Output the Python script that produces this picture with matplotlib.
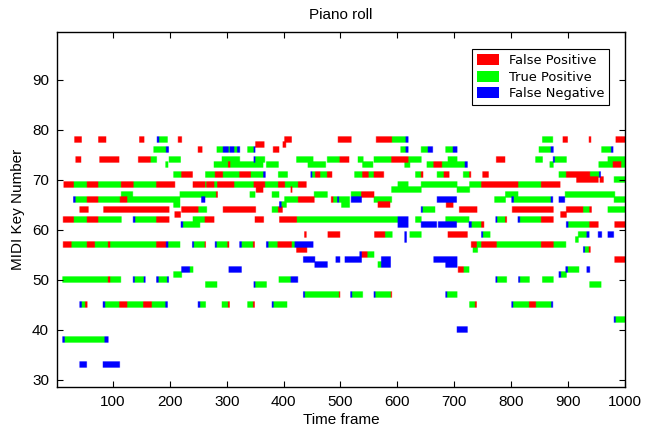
import numpy as np
import matplotlib
matplotlib.use("Agg")
import matplotlib.pyplot as plt
from matplotlib.patches import Patch

# (midi key, first frame, last frame) for every coloured stretch of the roll
false_pos = [
    (78, 33, 45), (78, 75, 88), (78, 147, 155), (78, 215, 221), (78, 402, 414), (78, 496, 519),
    (78, 563, 590), (78, 891, 899), (78, 937, 940), (78, 984, 1000),
    (77, 351, 366), (77, 399, 404),
    (76, 250, 257), (76, 382, 392),
    (74, 35, 44), (74, 77, 111), (74, 145, 166), (74, 499, 515), (74, 590, 619), (74, 774, 789),
    (73, 303, 306), (73, 664, 678), (73, 979, 993),
    (71, 221, 240), (71, 280, 293), (71, 323, 342), (71, 456, 464), (71, 477, 485), (71, 539, 549),
    (71, 559, 576), (71, 642, 645), (71, 682, 691), (71, 727, 729), (71, 750, 760), (71, 897, 938),
    (70, 915, 953), (70, 956, 962),
    (69, 14, 31), (69, 55, 74), (69, 115, 136), (69, 177, 209), (69, 241, 262), (69, 265, 278),
    (69, 284, 313), (69, 348, 367), (69, 391, 402), (69, 426, 440), (69, 748, 812), (69, 853, 886),
    (68, 352, 364), (68, 413, 415),
    (67, 282, 284), (67, 537, 559),
    (66, 55, 74), (66, 113, 125), (66, 426, 454), (66, 484, 487),
    (65, 566, 587), (65, 686, 698),
    (64, 42, 57), (64, 84, 199), (64, 221, 250), (64, 294, 351), (64, 391, 398), (64, 709, 740),
    (64, 802, 874), (64, 897, 926), (64, 938, 941),
    (63, 209, 219), (63, 887, 897),
    (62, 13, 31), (62, 55, 74), (62, 177, 199), (62, 262, 278), (62, 350, 365), (62, 393, 423),
    (62, 790, 792), (62, 853, 874),
    (61, 748, 752), (61, 938, 953), (61, 982, 1000),
    (59, 437, 440), (59, 478, 499), (59, 560, 578), (59, 689, 723),
    (57, 13, 27), (57, 55, 68), (57, 92, 95), (57, 177, 194), (57, 262, 263), (57, 302, 304),
    (57, 347, 349), (57, 390, 414), (57, 730, 739), (57, 748, 774), (57, 853, 874),
    (56, 423, 441), (56, 937, 939),
    (55, 537, 547),
    (54, 982, 1000),
    (52, 707, 716),
    (50, 92, 95),
    (47, 498, 499), (47, 589, 590),
    (45, 52, 55), (45, 112, 125), (45, 154, 168), (45, 303, 305), (45, 347, 349), (45, 737, 739),
    (45, 832, 843),
]

true_pos = [
    (78, 181, 196), (78, 590, 615), (78, 855, 873),
    (76, 172, 194), (76, 283, 294), (76, 303, 306), (76, 313, 319), (76, 337, 348), (76, 606, 615),
    (76, 642, 654), (76, 685, 698), (76, 849, 870), (76, 959, 976),
    (74, 166, 177), (74, 199, 219), (74, 292, 323), (74, 350, 367), (74, 423, 452), (74, 477, 499),
    (74, 531, 540), (74, 559, 590), (74, 619, 642), (74, 689, 705), (74, 843, 855), (74, 876, 897),
    (74, 970, 1000),
    (73, 193, 197), (73, 278, 303), (73, 306, 364), (73, 370, 391), (73, 443, 474), (73, 539, 557),
    (73, 613, 622), (73, 652, 664), (73, 678, 719), (73, 868, 874), (73, 954, 979), (73, 993, 1000),
    (71, 207, 221), (71, 263, 280), (71, 293, 323), (71, 342, 365), (71, 391, 407), (71, 450, 456),
    (71, 464, 477), (71, 525, 539), (71, 549, 559), (71, 632, 642), (71, 670, 682), (71, 716, 727),
    (71, 884, 897), (71, 938, 955),
    (70, 981, 1000),
    (69, 31, 55), (69, 74, 115), (69, 136, 177), (69, 262, 265), (69, 278, 284), (69, 313, 348),
    (69, 367, 391), (69, 402, 426), (69, 601, 619), (69, 642, 705), (69, 727, 748), (69, 812, 853),
    (68, 590, 642), (68, 705, 727),
    (67, 115, 135), (67, 218, 282), (67, 341, 350), (67, 380, 392), (67, 454, 477), (67, 519, 537),
    (67, 790, 812), (67, 895, 982),
    (66, 34, 55), (66, 74, 113), (66, 125, 218), (66, 402, 426), (66, 487, 495), (66, 497, 516),
    (66, 559, 590), (66, 771, 790), (66, 804, 870), (66, 981, 1000),
    (65, 207, 218), (65, 396, 405), (65, 502, 516),
    (64, 250, 265), (64, 380, 391), (64, 644, 666), (64, 926, 938), (64, 970, 1000),
    (62, 31, 55), (62, 74, 115), (62, 139, 177), (62, 241, 262), (62, 423, 601), (62, 632, 642),
    (62, 685, 726), (62, 775, 790), (62, 815, 853),
    (61, 223, 253), (61, 730, 748), (61, 900, 938),
    (59, 578, 591), (59, 622, 642), (59, 750, 763), (59, 918, 933),
    (58, 913, 918),
    (57, 27, 55), (57, 68, 92), (57, 95, 177), (57, 197, 218), (57, 242, 262), (57, 282, 302),
    (57, 326, 347), (57, 373, 390), (57, 414, 420), (57, 739, 748), (57, 774, 853), (57, 874, 896),
    (56, 733, 741), (56, 929, 937),
    (55, 547, 559),
    (53, 566, 572),
    (52, 235, 241), (52, 716, 726), (52, 899, 919),
    (51, 207, 221), (51, 887, 897),
    (50, 12, 92), (50, 95, 114), (50, 138, 155), (50, 180, 196), (50, 392, 413), (50, 775, 792),
    (50, 815, 832), (50, 855, 874),
    (49, 263, 283), (49, 350, 370), (49, 938, 958),
    (47, 437, 498), (47, 520, 539), (47, 561, 589), (47, 687, 705),
    (45, 45, 52), (45, 86, 112), (45, 125, 154), (45, 168, 193), (45, 253, 263), (45, 292, 303),
    (45, 337, 347), (45, 382, 406), (45, 727, 737), (45, 803, 832), (45, 843, 871),
    (42, 983, 1000),
    (38, 15, 86),
]

false_neg = [
    (78, 178, 181), (78, 615, 619),
    (76, 194, 198), (76, 294, 303), (76, 306, 313), (76, 319, 323), (76, 348, 350), (76, 615, 619),
    (76, 654, 662), (76, 698, 705), (76, 870, 874), (76, 976, 979),
    (74, 348, 350), (74, 874, 876),
    (73, 719, 723),
    (71, 365, 368), (71, 448, 450), (71, 955, 957),
    (66, 31, 34), (66, 256, 262), (66, 495, 497), (66, 519, 537), (66, 670, 704), (66, 801, 804),
    (66, 870, 873), (66, 884, 894),
    (65, 393, 396),
    (64, 642, 644),
    (62, 136, 139), (62, 601, 619), (62, 773, 775), (62, 812, 815),
    (61, 220, 223), (61, 601, 619), (61, 642, 669), (61, 672, 704), (61, 726, 730), (61, 897, 900),
    (59, 613, 616), (59, 748, 750), (59, 933, 937), (59, 953, 959), (59, 970, 980),
    (58, 613, 616),
    (57, 194, 197), (57, 240, 242), (57, 280, 282), (57, 323, 326), (57, 370, 373), (57, 420, 452),
    (56, 927, 929),
    (55, 534, 537),
    (54, 435, 455), (54, 492, 499), (54, 508, 537), (54, 572, 588), (54, 664, 705),
    (53, 455, 477), (53, 572, 588), (53, 685, 705),
    (52, 221, 235), (52, 304, 326), (52, 896, 899), (52, 933, 938),
    (51, 884, 887),
    (50, 136, 138), (50, 155, 157), (50, 177, 180), (50, 196, 198), (50, 413, 425), (50, 773, 775),
    (50, 813, 815),
    (49, 348, 350),
    (47, 435, 437), (47, 518, 520), (47, 559, 561), (47, 685, 687),
    (45, 42, 45), (45, 83, 86), (45, 193, 196), (45, 250, 253), (45, 380, 382), (45, 801, 803),
    (45, 871, 873),
    (42, 981, 983),
    (40, 705, 723),
    (38, 12, 15), (38, 86, 92),
    (33, 42, 54), (33, 83, 112),
]

legend_labels = ["False Positive", "True Positive", "False Negative"]

low_key, high_key = 29, 99
n_frames = 1000
sub = 8  # image rows per key, keeps the soft edge thin

red, green, blue = (1.0, 0.0, 0.0), (0.0, 1.0, 0.0), (0.0, 0.0, 1.0)

roll = np.ones(((high_key - low_key + 1) * sub, n_frames, 3))
for notes, col in [(true_pos, green), (false_pos, red), (false_neg, blue)]:
    for key, start, end in notes:
        r = (key - low_key) * sub
        # one extra image row on each side so notes look a bit fatter, like the original
        roll[r - 1:r + sub + 1, start - 1:end] = col

fig = plt.figure(figsize=(6.57, 4.28), dpi=100)
ax = fig.add_axes([0.0872, 0.0958, 0.8636, 0.8283])
ax.imshow(roll, origin="lower", aspect="auto", interpolation="bilinear",
          extent=(0.5, n_frames + 0.5, low_key - 0.5, high_key + 0.5))
ax.set_xlim(2, 1000)
ax.set_ylim(28.5, 99.5)
ax.set_xticks(range(100, 1001, 100))
ax.set_yticks(range(30, 91, 10))

font = "Liberation Sans"
ax.tick_params(direction="in", top=True, right=True, length=4, width=0.8,
               labelsize=11, pad=6)
for lab in ax.get_xticklabels() + ax.get_yticklabels():
    lab.set_family(font)
for s in ax.spines.values():
    s.set_linewidth(1.0)

ax.set_title("Piano roll", family=font, fontsize=11, pad=10)
ax.set_xlabel("Time frame", family=font, fontsize=11, labelpad=3)
ax.set_ylabel("MIDI Key Number", family=font, fontsize=11, labelpad=5)

handles = [Patch(facecolor=c, edgecolor="none") for c in (red, green, blue)]
leg = ax.legend(handles, legend_labels, loc="upper right", bbox_to_anchor=(0.973, 0.953),
                borderaxespad=0, fancybox=False, framealpha=1, edgecolor="black",
                fontsize=9.4, handlelength=1.7, handleheight=0.9, labelspacing=0.25,
                borderpad=0.4, handletextpad=0.7)
leg.get_frame().set_linewidth(0.8)

fig.savefig("out.png", dpi=100)
